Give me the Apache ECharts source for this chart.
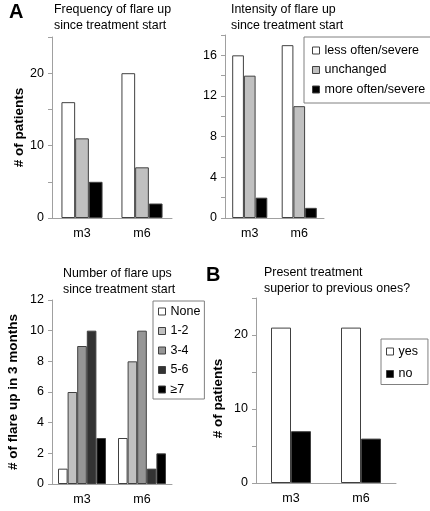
<!DOCTYPE html>
<html>
<head>
<meta charset="utf-8">
<script src="https://cdn.jsdelivr.net/npm/echarts@6/dist/echarts.min.js"></script>
<style>html,body{margin:0;padding:0;background:#fff}#c{width:430px;height:511px}</style>
</head>
<body>
<div id="c"></div>
<script>
const categories = ['m3', 'm6'];
// Panel A1: Frequency of flare up
const freqLess = [16, 20];
const freqUnchanged = [11, 7];
const freqMore = [5, 2];
// Panel A2: Intensity of flare up
const intLess = [16, 17];
const intUnchanged = [14, 11];
const intMore = [2, 1];
// Panel A3: Number of flare ups
const numNone = [1, 3];
const num12 = [6, 8];
const num34 = [9, 10];
const num56 = [10, 1];
const num7 = [3, 2];
// Panel B
const supYes = [21, 21];
const supNo = [7, 6];

const threeNames = ['less often/severe', 'unchanged', 'more often/severe'];
const numNames = ['None', '1-2', '3-4', '5-6', '≥7'];
const ynNames = ['yes', 'no'];

const FONT = '"Liberation Sans", Arial, sans-serif';
const AX = '#a0a0a0';
const BORDER = '#404040';

function xAx(gi) {
  return {
    type: 'category', gridIndex: gi, data: categories,
    axisLine: { lineStyle: { color: AX } },
    axisTick: { length: 4, lineStyle: { color: AX } },
    axisLabel: { color: '#000', fontSize: 12.5, fontFamily: FONT, margin: 9 }
  };
}
function yAx(gi, max, interval, labelEvery, name, nameGap, pad) {
  return {
    type: 'value', gridIndex: gi, min: 0, max: max, interval: interval,
    name: name, nameLocation: 'middle', nameGap: nameGap,
    nameTextStyle: { color: '#000', fontSize: 13.5, fontWeight: 'bold', fontFamily: FONT, padding: pad || 0 },
    splitLine: { show: false },
    axisLine: { show: true, lineStyle: { color: AX } },
    axisTick: { show: true, length: 4, lineStyle: { color: AX } },
    axisLabel: { color: '#000', fontSize: 12.5, fontFamily: FONT, margin: 8,
      formatter: v => (v % labelEvery === 0 ? String(v) : '') }
  };
}
function bar(name, data, color, xi, w) {
  return {
    type: 'bar', name: name, data: data, xAxisIndex: xi, yAxisIndex: xi,
    barWidth: w, barGap: '0%',
    itemStyle: { color: color, borderColor: BORDER, borderWidth: 1 },
    emphasis: { disabled: true }
  };
}
function legend(names, left, top, gap, padding) {
  return {
    data: names, orient: 'vertical', left: left, top: top,
    itemWidth: 7, itemHeight: 7, itemGap: gap, icon: 'rect',
    padding: padding, borderColor: '#808080', borderWidth: 1,
    textStyle: { color: '#000', fontSize: 12.5, fontFamily: FONT },
    itemStyle: { borderColor: BORDER, borderWidth: 1 }, selectedMode: false
  };
}
function ttl(text, left, top, size, bold) {
  return {
    text: text, left: left, top: top, padding: 0,
    textStyle: { color: '#000', fontSize: size, fontWeight: bold ? 'bold' : 'normal',
      fontFamily: FONT, lineHeight: bold ? size : 15.5 }
  };
}

const chart = echarts.init(document.getElementById('c'), null, { renderer: 'canvas' });
chart.setOption({
  animation: false,
  backgroundColor: '#fff',
  title: [
    ttl('A', 9, 2, 20, true),
    ttl('B', 206, 265, 20, true),
    ttl('Frequency of flare up\nsince treatment start', 54, 2, 12.4),
    ttl('Intensity of flare up\nsince treatment start', 231, 2, 12.4),
    ttl('Number of flare ups\nsince treatment start', 63, 266, 12.4),
    ttl('Present treatment\nsuperior to previous ones?', 264, 265, 12.4)
  ],
  grid: [
    { left: 52, top: 37, width: 120, height: 181 },
    { left: 225, top: 35, width: 99, height: 183 },
    { left: 52, top: 300, width: 120, height: 184 },
    { left: 256, top: 298, width: 140, height: 185 }
  ],
  xAxis: [xAx(0), xAx(1), xAx(2), xAx(3)],
  yAxis: [
    yAx(0, 25, 5, 10, '# of patients', 19),
    yAx(1, 18, 2, 4, '', 10),
    yAx(2, 12, 2, 2, '# of flare up in 3 months', 32),
    yAx(3, 25, 5, 10, '# of patients', 31, [0, 16, 0, 0])
  ],
  legend: [
    legend(threeNames, 304, 37, 6.5, [7, 10, 7, 8]),
    legend(numNames, 153, 301, 6.5, [4, 4, 3, 5]),
    legend(ynNames, 381, 339, 9.5, [6, 10, 4, 5])
  ],
  series: [
    bar(threeNames[0], freqLess, '#ffffff', 0, 13.7),
    bar(threeNames[1], freqUnchanged, '#c0c0c0', 0, 13.7),
    bar(threeNames[2], freqMore, '#000000', 0, 13.7),
    bar(threeNames[0], intLess, '#ffffff', 1, 11.7),
    bar(threeNames[1], intUnchanged, '#c0c0c0', 1, 11.7),
    bar(threeNames[2], intMore, '#000000', 1, 11.7),
    bar(numNames[0], numNone, '#ffffff', 2, 9.6),
    bar(numNames[1], num12, '#c0c0c0', 2, 9.6),
    bar(numNames[2], num34, '#969696', 2, 9.6),
    bar(numNames[3], num56, '#333333', 2, 9.6),
    bar(numNames[4], num7, '#000000', 2, 9.6),
    bar(ynNames[0], supYes, '#ffffff', 3, 20),
    bar(ynNames[1], supNo, '#000000', 3, 20)
  ]
});
</script>
</body>
</html>
